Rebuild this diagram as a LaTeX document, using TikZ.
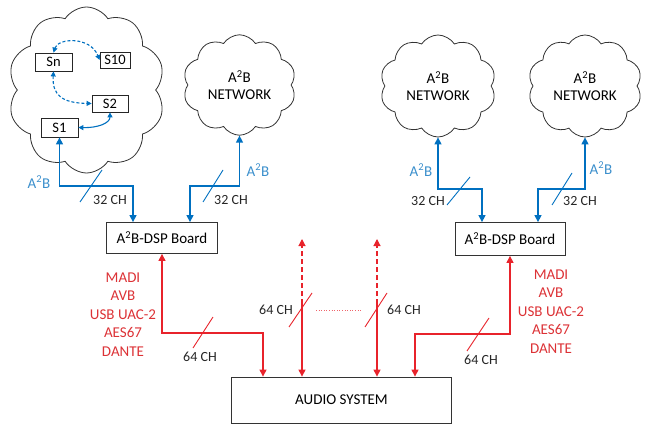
\documentclass[tikz,border=0pt]{standalone}
\usepackage{fontspec}
\setmainfont{Carlito}
\usetikzlibrary{shapes.symbols,arrows.meta}
\definecolor{lblue}{HTML}{0070C0}
\definecolor{tblue}{HTML}{3B8FCC}
\definecolor{lred}{HTML}{E8232B}
\definecolor{tred}{HTML}{DC3236}
\tikzset{
  box/.style={draw=black!80, line width=0.8pt, inner sep=0pt, font=\fontsize{15}{17}\selectfont},
  sbox/.style={draw=black!85, line width=0.8pt, inner sep=0pt, font=\fontsize{14.5}{16}\selectfont},
  cl/.style={cloud, draw=black!80, line width=0.8pt, cloud puffs=10, cloud puff arc=115, inner sep=0pt, align=center, font=\fontsize{15}{17}\selectfont},
  bline/.style={draw=lblue, line width=1.3pt, {Triangle[length=7pt,width=7pt]}-{Triangle[length=7pt,width=7pt]}},
  bsmall/.style={draw=lblue, line width=1.1pt, {Triangle[length=5pt,width=5pt]}-{Triangle[length=5pt,width=5pt]}},
  bdash/.style={bsmall, dash pattern=on 3pt off 2pt},
  rline/.style={draw=lred, line width=1.1pt},
  rtip/.style={-{Triangle[length=7pt,width=7pt]}},
  rboth/.style={{Triangle[length=7pt,width=7pt]}-{Triangle[length=7pt,width=7pt]}},
  slb/.style={draw=lblue, line width=0.9pt},
  slr/.style={draw=lred, line width=0.9pt},
  chl/.style={font=\fontsize{14}{16}\selectfont, text=black!85, inner sep=1pt},
  abl/.style={font=\fontsize{15}{17}\selectfont, text=tblue, inner sep=1pt},
  rlist/.style={font=\fontsize{15}{18.5}\selectfont, text=tred, align=center, inner sep=0pt},
}
\begin{document}
\begin{tikzpicture}[x=1pt,y=-1pt]
\useasboundingbox (0,0) rectangle (645,425);
% clouds
\node[cl, minimum width=157pt, minimum height=166pt] (cL) at (86.5,90) {};
\node[cl, minimum width=113pt, minimum height=100pt] (c2) at (239.5,85) {A\textsuperscript{2}B\\NETWORK};
\node[cl, minimum width=116pt, minimum height=102pt] (c3) at (438,86) {A\textsuperscript{2}B\\NETWORK};
\node[cl, minimum width=114pt, minimum height=102pt] (c4) at (585,86) {A\textsuperscript{2}B\\NETWORK};
% small boxes
\node[sbox, minimum width=37pt, minimum height=18pt] (Sn) at (53.5,62) {Sn};
\node[sbox, minimum width=30pt, minimum height=16pt] (S10) at (115,60) {S10};
\node[sbox, minimum width=36pt, minimum height=17pt] (S2) at (110,103.5) {S2};
\node[sbox, minimum width=37pt, minimum height=19pt] (S1) at (59.5,127.5) {S1};
% boards
\node[box, minimum width=111pt, minimum height=31pt] (bL) at (162,238) {A\textsuperscript{2}B-DSP Board};
\node[box, minimum width=110pt, minimum height=33pt] (bR) at (510,239) {A\textsuperscript{2}B-DSP Board};
\node[box, minimum width=220pt, minimum height=46pt] (au) at (341.5,400) {AUDIO SYSTEM};
% inner cloud links
\draw[bdash] (Sn.north) .. controls (58,38) and (90,36) .. (S10.west);
\draw[bdash] (Sn.south) .. controls (52,95) and (62,103) .. (S2.west);
\draw[bsmall] (S1.east) .. controls (98,128) and (110,123) .. (S2.south);
% blue connectors
\coordinate (j1) at (133,186);
\coordinate (j2) at (190,186);
\coordinate (j3) at (482,189);
\coordinate (j4) at (538,189);
\draw[bline] (S1.south) |- (j1) -- (j1 |- bL.north);
\draw[bline] (c2.south) |- (j2) -- (j2 |- bL.north);
\draw[bline] (c3.south) |- (j3) -- (j3 |- bR.north);
\draw[bline] (c4.south) |- (j4) -- (j4 |- bR.north);
% blue slashes
\draw[slb] (80,202) -- (102,170);
\draw[slb] (203,202) -- (223,170);
\draw[slb] (447,205) -- (470,177);
\draw[slb] (552,205) -- (572,173);
\node[chl] (t1) at (110,200) {32 CH};
\node[chl] (t2) at (231,200) {32 CH};
\node[chl] (t3) at (428,201) {32 CH};
\node[chl] (t4) at (580,201) {32 CH};
\node[abl] (a1) at (39,182) {A\textsuperscript{2}B};
\node[abl] (a2) at (258,170) {A\textsuperscript{2}B};
\node[abl] (a3) at (421,170) {A\textsuperscript{2}B};
\node[abl] (a4) at (601,168) {A\textsuperscript{2}B};
% red connectors
\coordinate (r1) at (263,333);
\coordinate (r2) at (415,334);
\draw[rline, rboth] (bL.south) |- (r1) -- (r1 |- au.north);
\draw[rline, rboth] (bR.south) |- (r2) -- (r2 |- au.north);
\coordinate (v1t) at (302,239);
\coordinate (v1m) at (302,304);
\coordinate (v2t) at (377,239);
\coordinate (v2m) at (377,304);
\draw[rline, rtip] (v1m) -- (v1m |- au.north);
\draw[rline, rtip] (v2m) -- (v2m |- au.north);
\draw[rline, rtip, dash pattern=on 5pt off 3pt] (v1m) -- (v1t);
\draw[rline, rtip, dash pattern=on 5pt off 3pt] (v2m) -- (v2t);
\draw[slr] (193,348) -- (213,317);
\draw[slr] (289,327) -- (312,293);
\draw[slr] (365,327) -- (387,293);
\draw[slr] (467,351) -- (489,318);
\draw[draw=lred!70, line width=0.6pt, dotted] (316,310) -- (362,310);
\node[chl] (t5) at (200,357) {64 CH};
\node[chl] (t6) at (276,310) {64 CH};
\node[chl] (t7) at (404,310) {64 CH};
\node[chl] (t8) at (481,360) {64 CH};
\node[rlist] (lL) at (123,314.5) {MADI\\AVB\\USB UAC-2\\AES67\\DANTE};
\node[rlist] (lR) at (551,311.5) {MADI\\AVB\\USB UAC-2\\AES67\\DANTE};
\end{tikzpicture}
\end{document}
